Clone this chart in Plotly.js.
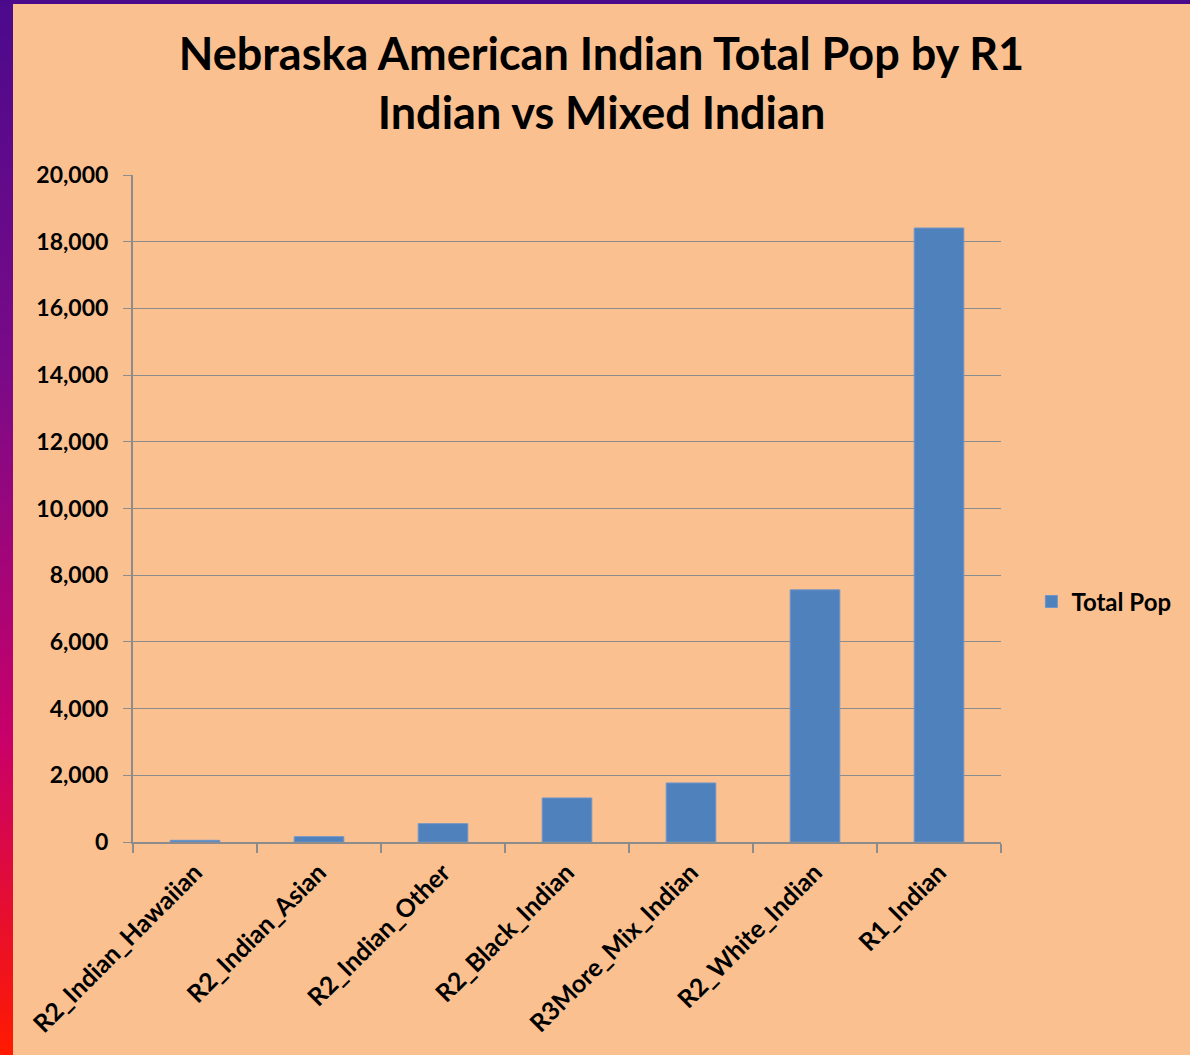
<!DOCTYPE html>
<html>
<head>
<meta charset="utf-8">
<script src="https://cdn.plot.ly/plotly-3.0.1.min.js"></script>
<style>
  html, body { margin: 0; padding: 0; width: 1190px; height: 1055px; overflow: hidden; background: #FAC090; }
  #leftbar { position: absolute; left: 0; top: 0; width: 13px; height: 1055px;
             background: linear-gradient(to bottom, #4B0A8C 0%, #7A0A88 35%, #C8006A 70%, #FF1A00 100%); }
  #topbar { position: absolute; left: 0; top: 0; width: 1190px; height: 4px; background: #4B0A8C; }
  #chart { position: absolute; left: 13px; top: 4px; width: 1177px; height: 1051px; }
</style>
</head>
<body>
<div id="leftbar"></div>
<div id="topbar"></div>
<div id="chart"></div>
<script>
const categories = ["R2_Indian_Hawaiian", "R2_Indian_Asian", "R2_Indian_Other", "R2_Black_Indian", "R3More_Mix_Indian", "R2_White_Indian", "R1_Indian"];
const totalPop = [50, 160, 550, 1320, 1770, 7560, 18410];
const yTickVals = [0, 2000, 4000, 6000, 8000, 10000, 12000, 14000, 16000, 18000, 20000];
const yTickText = ["0", "2,000", "4,000", "6,000", "8,000", "10,000", "12,000", "14,000", "16,000", "18,000", "20,000"];

const FONT = "Lato, 'Open Sans', sans-serif";

Plotly.newPlot("chart", [{
  type: "bar",
  x: categories,
  y: totalPop,
  name: "Total Pop",
  marker: { color: "#4F81BD", line: { color: "#7095C8", width: 1 } },
  width: 0.4,
  showlegend: true
}], {
  width: 1177,
  height: 1051,
  paper_bgcolor: "#FAC090",
  plot_bgcolor: "#FAC090",
  margin: { l: 120, r: 189, t: 171, b: 213 },
  title: {
    text: "<b>Nebraska American Indian Total Pop by R1<br>Indian vs Mixed Indian</b>",
    font: { family: FONT, size: 45, color: "#000000" },
    x: 0.5, xanchor: "center",
    y: 1 - 66/1051, yanchor: "top", yref: "container"
  },
  xaxis: {
    type: "category",
    tickangle: -45,
    tickson: "boundaries",
    ticks: "outside",
    ticklen: 9,
    tickcolor: "#8C8C8C",
    tickwidth: 2,
    showline: true,
    linecolor: "#8C8C8C",
    linewidth: 2,
    showgrid: false,
    ticklabelstandoff: 4,
    tickfont: { family: FONT, size: 25, color: "#000000", weight: "bold" }
  },
  yaxis: {
    range: [0, 20000],
    tickvals: yTickVals,
    ticktext: yTickText,
    ticks: "outside",
    ticklen: 8,
    tickcolor: "#8C8C8C",
    tickwidth: 1,
    showline: true,
    linecolor: "#8C8C8C",
    linewidth: 2,
    showgrid: true,
    gridcolor: "#8C8C8C",
    gridwidth: 1,
    zeroline: false,
    ticklabelstandoff: 10,
    tickfont: { family: FONT, size: 23, color: "#000000", weight: "bold" }
  },
  legend: {
    x: 1.035, xanchor: "left",
    y: 0.36, yanchor: "middle",
    bgcolor: "rgba(0,0,0,0)",
    font: { family: FONT, size: 24, color: "#000000", weight: "bold" }
  },
  bargap: 0.6
}, { displayModeBar: false, staticPlot: true });
</script>
</body>
</html>
